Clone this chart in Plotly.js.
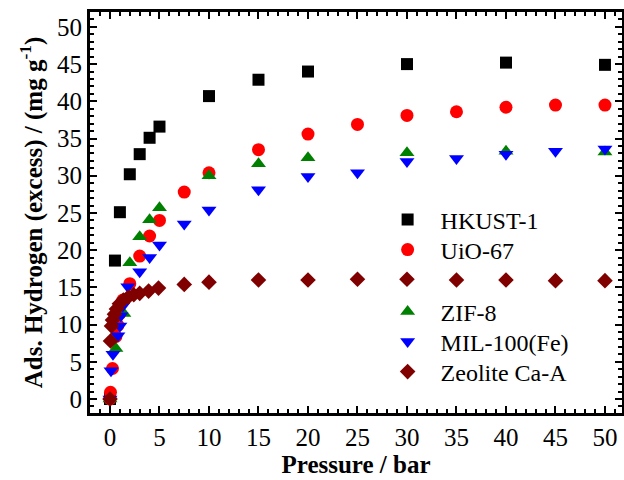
<!DOCTYPE html>
<html>
<head>
<meta charset="utf-8">
<script src="https://cdn.plot.ly/plotly-3.0.1.min.js"></script>
<style>
  html, body { margin: 0; padding: 0; background: #ffffff; }
  #chart { width: 624px; height: 480px; }
</style>
</head>
<body>
<div id="chart"></div>
<script>
// Excess hydrogen uptake isotherms (pressure in bar, uptake in mg g^-1)
const hkustP = [0, 0.5, 1, 2, 3, 4, 5, 10, 15, 20, 30, 40, 50];
const hkustH = [0, 18.6, 25.1, 30.2, 32.9, 35.1, 36.6, 40.7, 42.9, 44.0, 45.0, 45.2, 44.9];

const uioP = [0, 0.05, 0.25, 0.6, 0.8, 1, 1.3, 2, 3, 4, 5, 7.5, 10, 15, 20, 25, 30, 35, 40, 45, 50];
const uioH = [0, 0.9, 4.1, 8.4, 9.9, 11.5, 13.3, 15.5, 19.2, 21.9, 24.0, 27.8, 30.4, 33.5, 35.6, 36.9, 38.1, 38.6, 39.2, 39.5, 39.5];

const zifP = [0, 0.6, 1.4, 2, 3, 4, 5, 10, 15, 20, 30, 40, 50];
const zifH = [0, 6.8, 11.5, 18.3, 21.8, 24.1, 25.7, 30.0, 31.6, 32.4, 33.1, 33.3, 33.2];

const milP = [0, 0.1, 0.3, 0.8, 1, 1.1, 1.3, 1.8, 3, 4, 5, 7.5, 10, 15, 20, 25, 30, 35, 40, 45, 50];
const milH = [0, 3.8, 6.0, 8.5, 9.8, 11.2, 12.5, 15.1, 17.1, 19.0, 20.7, 23.5, 25.4, 28.1, 29.9, 30.4, 31.9, 32.3, 32.9, 33.3, 33.6];

const zeoP = [0, 0.05, 0.15, 0.25, 0.45, 0.65, 0.95, 1.35, 1.85, 2.4, 3, 3.9, 4.9, 7.5, 10, 15, 20, 25, 30, 35, 40, 45, 50];
const zeoH = [0, 7.8, 9.8, 10.6, 11.4, 12.1, 12.8, 13.3, 13.7, 14.0, 14.2, 14.5, 14.9, 15.4, 15.7, 16.0, 16.0, 16.1, 16.1, 16.0, 16.0, 15.9, 15.9];

const names = ['HKUST-1', 'UiO-67', 'ZIF-8', 'MIL-100(Fe)', 'Zeolite Ca-A'];

const serif = 'Liberation Serif, Times New Roman, serif';

function series(x, y, name, symbol, color, size, legendId) {
  return {
    type: 'scatter', mode: 'markers', x: x, y: y, name: name,
    legend: legendId,
    marker: { symbol: symbol, color: color, size: size, line: { width: 0 } }
  };
}

const traces = [
  series(hkustP, hkustH, names[0], 'square', '#000000', 12, 'legend'),
  series(uioP, uioH, names[1], 'circle', '#ff0000', 13, 'legend2'),
  series(zifP, zifH, names[2], 'triangle-up', '#008000', 13, 'legend3'),
  series(milP, milH, names[3], 'triangle-down', '#0000ff', 13, 'legend4'),
  series(zeoP, zeoH, names[4], 'diamond', '#800000', 12, 'legend5')
];

// One legend per entry so each row can sit at its own height
function legendAt(y) {
  return {
    x: 0.535, y: y, xanchor: 'left', yanchor: 'middle',
    bgcolor: 'rgba(0,0,0,0)', borderwidth: 0,
    itemwidth: 56,
    font: { family: serif, size: 24, color: '#000000' }
  };
}

const axisCommon = {
  showline: true, linewidth: 3, linecolor: '#000000', mirror: 'ticks',
  ticks: 'inside', ticklen: 7, tickwidth: 2, tickcolor: '#000000',
  showgrid: false, zeroline: false,
  tickfont: { family: serif, size: 25, color: '#000000' },
  minor: { ticks: 'inside', ticklen: 4, tickwidth: 2, tickcolor: '#000000', dtick: 1, showgrid: false }
};

const layout = {
  width: 624, height: 480,
  margin: { l: 90, r: 2, t: 12, b: 67 },
  paper_bgcolor: '#ffffff', plot_bgcolor: '#ffffff',
  showlegend: true,
  xaxis: Object.assign({}, axisCommon, {
    range: [-2.02, 51.72], tick0: 0, dtick: 5,
    title: { text: '<b>Pressure / bar</b>', font: { family: serif, size: 25, color: '#000000' }, standoff: 6 }
  }),
  yaxis: Object.assign({}, axisCommon, {
    range: [-1.88, 52.0], tick0: 0, dtick: 5,
    title: { text: '<b>Ads. Hydrogen (excess) / (mg g<sup>-1</sup>)</b>', font: { family: serif, size: 25, color: '#000000' }, standoff: 8 }
  }),
  legend: legendAt(0.4813),
  legend2: legendAt(0.4065),
  legend3: legendAt(0.2519),
  legend4: legendAt(0.1771),
  legend5: legendAt(0.1022)
};

Plotly.newPlot('chart', traces, layout, { displayModeBar: false, staticPlot: true });
</script>
</body>
</html>
